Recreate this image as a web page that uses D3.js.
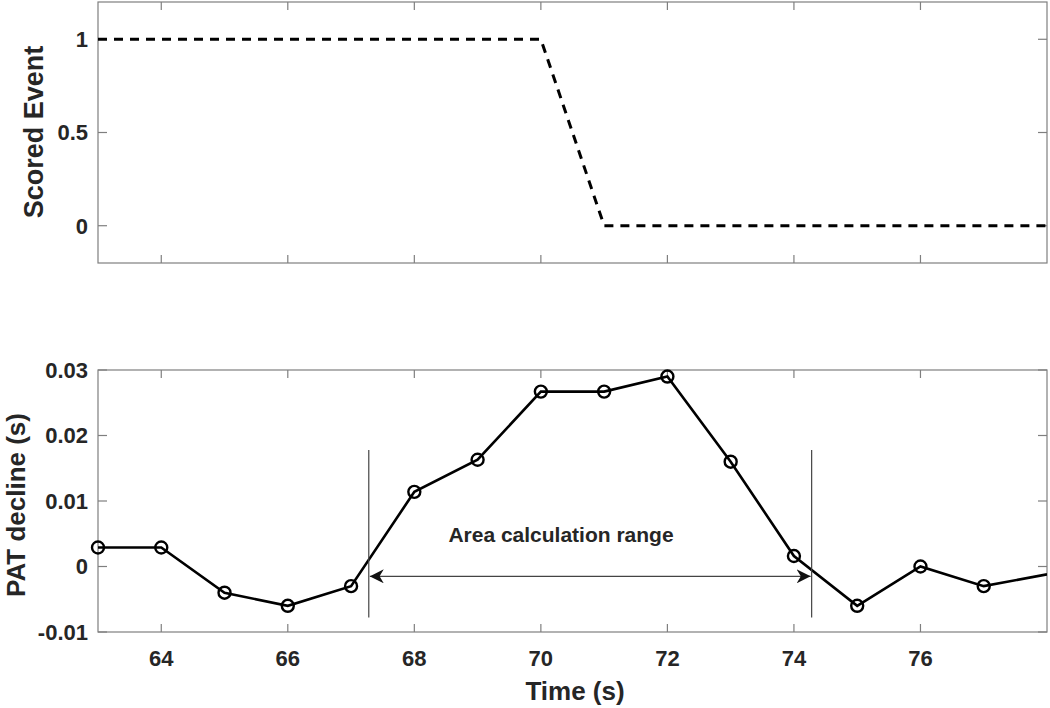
<!DOCTYPE html>
<html>
<head>
<meta charset="utf-8">
<script src="https://cdn.jsdelivr.net/npm/d3@7"></script>
<style>
  body { margin: 0; background: #fff; }
  text { font-family: "Liberation Sans", Arial, sans-serif; font-weight: bold; fill: #262626; }
</style>
</head>
<body>
<div id="chart"></div>
<script>
// top panel: scored event (dashed)
var eventTime = [63, 70, 71, 78],
    eventValue = [1, 1, 0, 0];

// bottom panel: PAT decline
var patTime = [63, 64, 65, 66, 67, 68, 69, 70, 71, 72, 73, 74, 75, 76, 77, 78],
    patValue = [0.0029, 0.0029, -0.004, -0.006, -0.003, 0.0114, 0.0163, 0.0267, 0.0267, 0.029, 0.016, 0.0016, -0.006, 0, -0.003, -0.0012];

// area calculation range markers
var rangeStart = 67.28,
    rangeEnd = 74.28,
    rangeLineTop = 0.0178,
    rangeLineBottom = -0.0078,
    rangeArrowY = -0.0015,
    rangeLabel = "Area calculation range";

var xTicks = [64, 66, 68, 70, 72, 74, 76],
    topYTicks = [0, 0.5, 1],
    botYTicks = [-0.01, 0, 0.01, 0.02, 0.03];

var width = 1050, height = 708,
    left = 98, right = 1047;

var svg = d3.select("#chart").append("svg")
    .attr("width", width)
    .attr("height", height);

var defs = svg.append("defs");
defs.append("clipPath").attr("id", "clipTop")
    .append("rect").attr("x", left).attr("y", 2).attr("width", right - left).attr("height", 261);
defs.append("clipPath").attr("id", "clipBot")
    .append("rect").attr("x", left).attr("y", 370).attr("width", right - left).attr("height", 262);
defs.append("marker")
    .attr("id", "arrow")
    .attr("viewBox", "0 0 10 10")
    .attr("refX", 10).attr("refY", 5)
    .attr("markerWidth", 14).attr("markerHeight", 14)
    .attr("markerUnits", "userSpaceOnUse")
    .attr("orient", "auto-start-reverse")
  .append("path")
    .attr("d", "M0,0 L10,5 L0,10 L3,5 Z")
    .attr("fill", "#111");

var x = d3.scaleLinear().domain([63, 78]).range([left, right]);
var yTop = d3.scaleLinear().domain([-0.2, 1.2]).range([263, 2]);
var yBot = d3.scaleLinear().domain([-0.01, 0.03]).range([632, 370]);

var axisColor = "#7f7f7f";

function drawFrame(y, yTicks, fmt, showX) {
    var g = svg.append("g");
    var y0 = y.range()[0], y1 = y.range()[1];
    // box
    g.append("rect")
        .attr("x", left).attr("y", y1)
        .attr("width", right - left).attr("height", y0 - y1)
        .attr("fill", "none").attr("stroke", axisColor).attr("stroke-width", 1.2);
    // x ticks bottom and top (inward)
    xTicks.forEach(function(t) {
        g.append("line").attr("x1", x(t)).attr("x2", x(t)).attr("y1", y0).attr("y2", y0 - 8)
            .attr("stroke", axisColor).attr("stroke-width", 1.2);
        g.append("line").attr("x1", x(t)).attr("x2", x(t)).attr("y1", y1).attr("y2", y1 + 8)
            .attr("stroke", axisColor).attr("stroke-width", 1.2);
        if (showX) {
            g.append("text").attr("x", x(t)).attr("y", y0 + 34)
                .attr("text-anchor", "middle").style("font-size", "22px").text(t);
        }
    });
    // y ticks left and right (inward)
    yTicks.forEach(function(t) {
        g.append("line").attr("x1", left).attr("x2", left + 9).attr("y1", y(t)).attr("y2", y(t))
            .attr("stroke", axisColor).attr("stroke-width", 1.2);
        g.append("line").attr("x1", right).attr("x2", right - 9).attr("y1", y(t)).attr("y2", y(t))
            .attr("stroke", axisColor).attr("stroke-width", 1.2);
        g.append("text").attr("x", left - 10).attr("y", y(t)).attr("dy", "0.36em")
            .attr("text-anchor", "end").style("font-size", "22px").text(fmt(t));
    });
}

drawFrame(yTop, topYTicks, function(d) { return String(d); }, false);
drawFrame(yBot, botYTicks, function(d) { return d === 0 ? "0" : String(d); }, true);

// top dashed line
var eventData = eventTime.map(function(t, i) { return [t, eventValue[i]]; });
svg.append("path")
    .datum(eventData)
    .attr("clip-path", "url(#clipTop)")
    .attr("fill", "none")
    .attr("stroke", "#000")
    .attr("stroke-width", 3)
    .attr("stroke-dasharray", "9,7")
    .attr("d", d3.line().x(function(d) { return x(d[0]); }).y(function(d) { return yTop(d[1]); }));

// bottom line + circle markers
var patData = patTime.map(function(t, i) { return [t, patValue[i]]; });
svg.append("path")
    .datum(patData)
    .attr("clip-path", "url(#clipBot)")
    .attr("fill", "none")
    .attr("stroke", "#000")
    .attr("stroke-width", 2.6)
    .attr("d", d3.line().x(function(d) { return x(d[0]); }).y(function(d) { return yBot(d[1]); }));

svg.selectAll(".pt")
    .data(patData.filter(function(d) { return d[0] < 78; }))
    .enter().append("circle")
    .attr("class", "pt")
    .attr("cx", function(d) { return x(d[0]); })
    .attr("cy", function(d) { return yBot(d[1]); })
    .attr("r", 6)
    .attr("fill", "none")
    .attr("stroke", "#000")
    .attr("stroke-width", 2.4);

// range lines and arrow
[rangeStart, rangeEnd].forEach(function(t) {
    svg.append("line")
        .attr("x1", x(t)).attr("x2", x(t))
        .attr("y1", yBot(rangeLineTop)).attr("y2", yBot(rangeLineBottom))
        .attr("stroke", "#444").attr("stroke-width", 1.2);
});
svg.append("line")
    .attr("x1", x(rangeStart) + 1).attr("x2", x(rangeEnd) - 1)
    .attr("y1", yBot(rangeArrowY)).attr("y2", yBot(rangeArrowY))
    .attr("stroke", "#444").attr("stroke-width", 1.2)
    .attr("marker-start", "url(#arrow)")
    .attr("marker-end", "url(#arrow)");
svg.append("text")
    .attr("x", 561)
    .attr("y", 542)
    .attr("text-anchor", "middle")
    .style("font-size", "21px")
    .text(rangeLabel);

// axis labels
svg.append("text")
    .attr("transform", "translate(43," + 132 + ") rotate(-90)")
    .attr("text-anchor", "middle")
    .style("font-size", "27px")
    .text("Scored Event");
svg.append("text")
    .attr("transform", "translate(25," + 505 + ") rotate(-90)")
    .attr("text-anchor", "middle")
    .style("font-size", "26px")
    .text("PAT decline (s)");
svg.append("text")
    .attr("x", 575)
    .attr("y", 700)
    .attr("text-anchor", "middle")
    .style("font-size", "26px")
    .text("Time (s)");
</script>
</body>
</html>
